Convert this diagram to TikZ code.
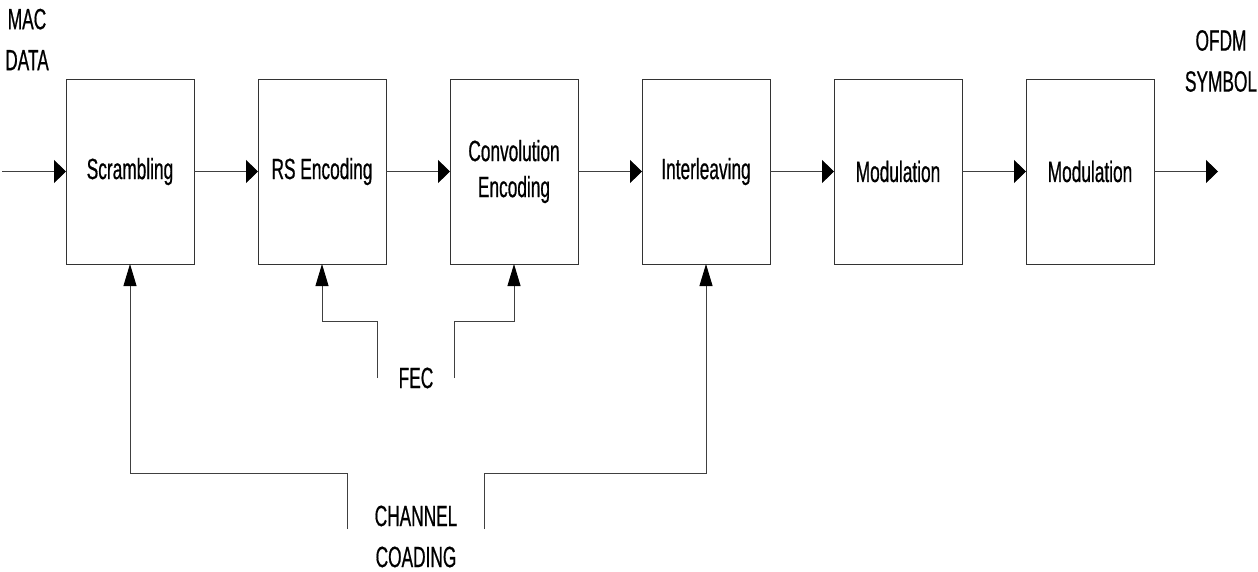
\documentclass[tikz,border=0pt]{standalone}
\usepackage{fontspec}
\newfontfamily\narrowsans[FakeStretch=0.59,FakeBold=0.6]{Liberation Sans}
\usetikzlibrary{arrows.meta,positioning}
\tikzset{
  block/.style={draw=black!80,line width=0.9pt,minimum width=128pt,minimum height=185pt,
    inner sep=0pt,outer sep=0pt,align=center},
  flow/.style={draw=black!75,line width=0.9pt,-{Triangle[length=12pt,width=23pt,color=black]}},
  feed/.style={draw=black!75,line width=0.9pt,-{Triangle[length=22pt,width=13pt,color=black]}},
  tag/.style={inner sep=0pt,align=center,font=\narrowsans\fontsize{29.3}{41}\selectfont},
}
\begin{document}
\begin{tikzpicture}[x=1pt,y=-1pt,every node/.style={font=\narrowsans\fontsize{29.3}{36}\selectfont}]
  \useasboundingbox (0,0) rectangle (1258,571);
  % processing chain
  \node[block] (scr) at (130,171.5) {Scrambling};
  \node[block,right=64pt of scr] (rse) {RS Encoding};
  \node[block,right=64pt of rse] (cnv) {Convolution\\Encoding};
  \node[block,right=64pt of cnv] (ilv) {Interleaving};
  \node[block,right=64pt of ilv] (mod1) {Modulation};
  \node[block,right=64pt of mod1] (mod2) {Modulation};
  % labels outside the chain
  \node[tag] (mac) at (27,39.5) {MAC\\DATA};
  \node[tag] (ofdm) at (1221,61) {OFDM\\SYMBOL};
  \node[tag] (fec) at (416,378) {FEC};
  \node[tag] (chan) at (416,536.5) {CHANNEL\\COADING};
  \coordinate (in) at (2,171.5); \coordinate (out) at (1218,171.5);
  \coordinate (fecl) at (377,378); \coordinate (fecr) at (454,378);
  \coordinate (chl) at (347,529); \coordinate (chr) at (484,529);
  % data path
  \draw[flow] (in) -- (scr);
  \foreach \a/\b in {scr/rse,rse/cnv,cnv/ilv,ilv/mod1,mod1/mod2}
    \draw[flow] (\a) -- (\b);
  \draw[flow] (mod2) -- (out);
  % control inputs
  \draw[feed] (fecl) -- ++(0,-57) -| (rse.south);
  \draw[feed] (fecr) -- ++(0,-57) -| (cnv.south);
  \draw[feed] (chl) -- ++(0,-56) -| (scr.south);
  \draw[feed] (chr) -- ++(0,-56) -| (ilv.south);
\end{tikzpicture}
\end{document}
